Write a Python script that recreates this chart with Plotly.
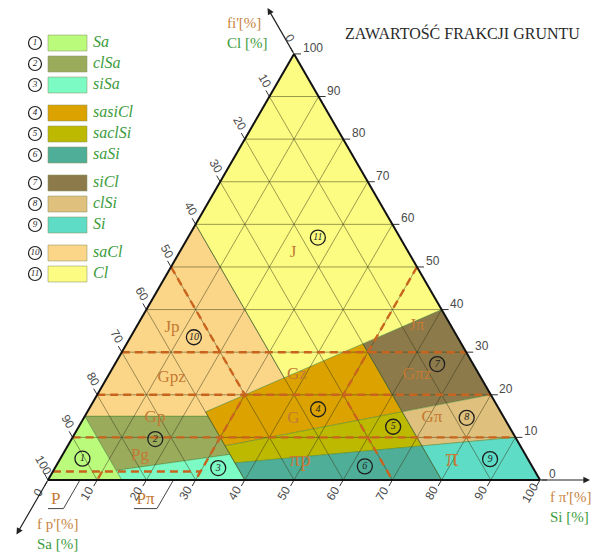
import math
import plotly.graph_objects as go

# ---------------------------------------------------------------- data
TICK_VALUES = [0, 10, 20, 30, 40, 50, 60, 70, 80, 90, 100]
GRID_VALUES = [10, 20, 30, 40, 50, 60, 70, 80, 90]

# ISO 14688-2 fine-soil classes, polygon vertices as (Cl, Sa, Si) in %
POLY_SA = [(0, 100, 0), (15, 85, 0), (0, 85, 15)]
POLY_CLSA = [(15, 85, 0), (15, 60, 25), (6, 60, 34), (2.25, 85, 12.75)]
POLY_SISA = [(2.25, 85, 12.75), (6, 60, 34), (0, 60, 40), (0, 85, 15)]
POLY_SASICL = [(32, 20, 48), (24, 40, 36), (16, 60, 24), (8, 60, 32), (16, 20, 64)]
POLY_SACLSI = [(16, 20, 64), (8, 60, 32), (4, 60, 36), (8, 20, 72)]
POLY_SASI = [(8, 20, 72), (4, 60, 36), (0, 60, 40), (0, 20, 80)]
POLY_SICL = [(40, 0, 60), (32, 20, 48), (16, 20, 64), (20, 0, 80)]
POLY_CLSI = [(20, 0, 80), (16, 20, 64), (8, 20, 72), (10, 0, 90)]
POLY_SI = [(10, 0, 90), (8, 20, 72), (0, 20, 80), (0, 0, 100)]
POLY_SACL = [(60, 40, 0), (24, 40, 36), (16, 60, 24), (15, 60, 25), (15, 85, 0)]
POLY_CL = [(100, 0, 0), (40, 0, 60), (32, 20, 48), (24, 40, 36), (60, 40, 0)]

CLASS_CODES = ["Sa", "clSa", "siSa", "sasiCl", "saclSi", "saSi",
               "siCl", "clSi", "Si", "saCl", "Cl"]
CLASS_NUMBERS = [1, 2, 3, 4, 5, 6, 7, 8, 9, 10, 11]
LEGEND_GROUP = [0, 0, 0, 1, 1, 1, 2, 2, 2, 3, 3]

# position of the circled class number inside the triangle (Cl, Sa, Si)
MARK_CL = [5, 9.6, 2.8, 16.6, 12.5, 3.2, 27.2, 14.6, 4.9, 33.5, 56.9]
MARK_SA = [90.5, 73.4, 64, 36.8, 23.6, 34, 7.3, 7.6, 7.7, 53.6, 16.7]
MARK_SI = [4.5, 17, 33.2, 46.6, 63.9, 62.8, 65.5, 77.8, 87.4, 12.9, 26.4]

# old PN-86 classes: labels and their positions (Cl, Sa, Si)
PN_NAMES = ["Pg", "Gp", "Gpz", "Jp", "J", "Jπ", "Gπz", "Gz", "G", "Gπ", "πp", "π"]
PN_CL = [5.6, 14.5, 23.9, 35.8, 53.4, 36.3, 24.6, 24.8, 14.4, 14.5, 4.5, 4.7]
PN_SA = [78.5, 71, 62.9, 56.9, 23.5, 6.9, 12.7, 37, 42.9, 14.7, 46.5, 15.5]
PN_SI = [15.9, 14.5, 13.2, 7.3, 23.1, 56.8, 62.7, 38.2, 42.7, 70.8, 49, 79.8]
PN_OUT_NAMES = ["P", "Pπ"]
PN_OUT_SI = [6.5, 25.5]

# PN-86 class boundaries (dashed), polylines of (Cl, Sa, Si)
PN_LINE_CL30 = [(30, 70, 0), (30, 0, 70)]
PN_LINE_CL20 = [(20, 80, 0), (20, 0, 80)]
PN_LINE_CL10 = [(10, 90, 0), (10, 0, 90)]
PN_LINE_CL2 = [(2, 98, 0), (2, 68, 30)]
PN_LINE_LEFT = [(50, 50, 0), (20, 50, 30), (0, 70, 30)]
PN_LINE_RIGHT = [(50, 0, 50), (20, 30, 50), (0, 30, 70)]
PN_LINE_SI10 = [(2, 88, 10), (0, 90, 10)]

# ---------------------------------------------------------------- styles
CLASS_POLYS = [POLY_SA, POLY_CLSA, POLY_SISA, POLY_SASICL, POLY_SACLSI, POLY_SASI,
               POLY_SICL, POLY_CLSI, POLY_SI, POLY_SACL, POLY_CL]
PN_LINES = [PN_LINE_CL30, PN_LINE_CL20, PN_LINE_CL10, PN_LINE_CL2,
            PN_LINE_LEFT, PN_LINE_RIGHT, PN_LINE_SI10]
CLASS_COLORS = ["#bafb7c", "#9bab5c", "#7cfcc4", "#dba200", "#bdb800", "#4fae98",
                "#8c7a4a", "#dfc07c", "#5edcc6", "#fcd688", "#fcfc82"]
PN_SIZES = [17, 17, 17, 17, 17, 17, 17, 17, 17, 17, 21, 26]
SERIF = "Liberation Serif, Times New Roman, serif"
NARROW = "Liberation Sans Narrow, Arial Narrow, Liberation Sans, Arial, sans-serif"
ORANGE = "#c47a34"
GREEN = "#3c9c3c"
AX_ORANGE = "#c8843e"

FIG_W, FIG_H = 606, 552
TRI_X0, TRI_X1, TRI_BASE = 48, 540, 480          # triangle placement (px)
SIDE = TRI_X1 - TRI_X0
PX = SIDE / 100.0                                 # px per percent
S3 = math.sqrt(3) / 2
TRI_H = SIDE * S3


def to_xy(cl, sa, si):
    """ternary -> overlay cartesian units (percent of side)."""
    t = cl + sa + si
    return ((si + cl / 2.0) * 100.0 / t, cl * S3 * 100.0 / t)


def shift(p, dx, dy):
    """offset in screen pixels (dy positive downwards)."""
    return (p[0] + dx / PX, p[1] - dy / PX)


fig = go.Figure()

# --- class fills
for poly, col, name in zip(CLASS_POLYS, CLASS_COLORS, CLASS_CODES):
    pts = poly + [poly[0]]
    fig.add_trace(go.Scatterternary(
        a=[p[0] for p in pts], b=[p[1] for p in pts], c=[p[2] for p in pts],
        mode="lines", fill="toself", fillcolor=col,
        line=dict(color="rgba(70,130,50,0.55)", width=0.8),
        name=name, hoverinfo="skip"))

# --- grid on top of fills
ga, gb, gc = [], [], []
for v in GRID_VALUES:
    for p, q in [((v, 100 - v, 0), (v, 0, 100 - v)),
                 ((100 - v, v, 0), (0, v, 100 - v)),
                 ((100 - v, 0, v), (0, 100 - v, v))]:
        ga += [p[0], q[0], None]
        gb += [p[1], q[1], None]
        gc += [p[2], q[2], None]
fig.add_trace(go.Scatterternary(a=ga, b=gb, c=gc, mode="lines",
                                line=dict(color="rgba(55,55,25,0.55)", width=0.9),
                                hoverinfo="skip"))

# --- PN-86 dashed boundaries
da, db, dc = [], [], []
for line in PN_LINES:
    for p in line:
        da.append(p[0]); db.append(p[1]); dc.append(p[2])
    da.append(None); db.append(None); dc.append(None)
fig.add_trace(go.Scatterternary(a=da, b=db, c=dc, mode="lines",
                                line=dict(color="#c8641e", width=2.4, dash="8px,5px"),
                                hoverinfo="skip"))

# --- PN-86 labels
fig.add_trace(go.Scatterternary(
    a=PN_CL, b=PN_SA, c=PN_SI, mode="text", text=PN_NAMES,
    textposition="middle center",
    textfont=dict(family=SERIF, size=PN_SIZES, color=ORANGE), hoverinfo="skip"))

# --- circled class numbers
fig.add_trace(go.Scatterternary(
    a=MARK_CL, b=MARK_SA, c=MARK_SI, mode="markers+text",
    text=[str(n) for n in CLASS_NUMBERS], textposition="middle center",
    marker=dict(symbol="circle-open", size=15, color="#1e1e1e", line=dict(width=1.3)),
    textfont=dict(family=SERIF, size=10, color="#1e1e1e", style="italic"),
    hoverinfo="skip"))

# ---------------------------------------------------------------- overlay decorations
ticks_x, ticks_y = [], []
ann = []
tick_font = dict(family=NARROW, size=12, color="#4a4a4a")
for s in TICK_VALUES:
    # left edge: Sa
    p = to_xy(100 - s, s, 0)
    q = shift(p, -3.5, -6.1)
    ticks_x += [p[0], q[0], None]; ticks_y += [p[1], q[1], None]
    c = shift(p, -4.5, -15.5)
    ann.append(dict(x=c[0], y=c[1], xref="x", yref="y", text=str(s), showarrow=False,
                    textangle=60, font=tick_font, xanchor="center", yanchor="middle"))
    # bottom edge: Si
    p = to_xy(0, 100 - s, s)
    q = shift(p, -3.5, 6.1)
    ticks_x += [p[0], q[0], None]; ticks_y += [p[1], q[1], None]
    c = shift(p, -10, 13)
    ann.append(dict(x=c[0], y=c[1], xref="x", yref="y", text=str(s), showarrow=False,
                    textangle=-60, font=tick_font, xanchor="center", yanchor="middle"))
    # right edge: Cl
    p = to_xy(s, 0, 100 - s)
    q = shift(p, 7, 0)
    ticks_x += [p[0], q[0], None]; ticks_y += [p[1], q[1], None]
    c = shift(p, 6.5, -6)
    ann.append(dict(x=c[0], y=c[1], xref="x", yref="y", text=str(s), showarrow=False,
                    font=tick_font, xanchor="left", yanchor="middle"))

fig.add_trace(go.Scatter(x=ticks_x, y=ticks_y, mode="lines",
                         line=dict(color="#333333", width=1), hoverinfo="skip",
                         xaxis="x", yaxis="y"))

# axis arrows along the edge extensions
apex = to_xy(100, 0, 0)
bl = to_xy(0, 100, 0)
br = to_xy(0, 0, 100)
for tail, dx, dy in [(apex, -26.5, -46), (bl, -31.5, 54.5), (br, 50, 0)]:
    tip = shift(tail, dx, dy)
    ann.append(dict(x=tip[0], y=tip[1], ax=tail[0], ay=tail[1], xref="x", yref="y",
                    axref="x", ayref="y", text="", showarrow=True, arrowhead=2,
                    arrowsize=1.1, arrowwidth=1.2, arrowcolor="#222222", standoff=0))

# axis titles
title_font = dict(family=SERIF, size=15)
for anchor, dx, dy, t1, t2 in [(apex, -69, -21, "fi'[%]", "Cl [%]"),
                               (bl, -13, 54, "f p'[%]", "Sa [%]"),
                               (br, 8, 27, "f π'[%]", "Si [%]")]:
    c = shift(anchor, dx, dy)
    ann.append(dict(x=c[0], y=c[1], xref="x", yref="y", showarrow=False,
                    xanchor="left", yanchor="middle", align="left", font=title_font,
                    text='<span style="color:%s">%s</span><br><span style="color:%s">%s</span>'
                         % (AX_ORANGE, t1, GREEN, t2)))

# P / Pπ callouts below the base
cx, cy, ctx, cty = [], [], [], []
for name, si in zip(PN_OUT_NAMES, PN_OUT_SI):
    p = to_xy(0, 100 - si, si)
    q = shift(p, -16.5, 28.6)
    w = 8 + 7.5 * len(name)
    r = shift(q, -w, 0)
    cx += [p[0], q[0], r[0], None]; cy += [p[1], q[1], r[1], None]
    t = shift(q, -w / 2.0, -8.5)
    ctx.append(t[0]); cty.append(t[1])
fig.add_trace(go.Scatter(x=cx, y=cy, mode="lines", line=dict(color="#444444", width=1),
                         hoverinfo="skip", xaxis="x", yaxis="y"))
fig.add_trace(go.Scatter(x=ctx, y=cty, mode="text", text=PN_OUT_NAMES,
                         textposition="middle center",
                         textfont=dict(family=SERIF, size=17, color=ORANGE),
                         hoverinfo="skip", xaxis="x", yaxis="y"))

# ---------------------------------------------------------------- legend panel
slots = [i + g / 3.0 for i, g in enumerate(LEGEND_GROUP)]
fig.add_trace(go.Bar(y=slots, x=[39] * len(slots), base=48, orientation="h", width=0.76,
                     marker=dict(color=CLASS_COLORS,
                                 line=dict(color="rgba(140,150,100,0.55)", width=1)),
                     hoverinfo="skip", xaxis="x2", yaxis="y2"))
fig.add_trace(go.Scatter(x=[35] * len(slots), y=slots, mode="markers+text",
                         text=[str(n) for n in CLASS_NUMBERS], textposition="middle center",
                         marker=dict(symbol="circle-open", size=13, color="#1e1e1e",
                                     line=dict(width=1.2)),
                         textfont=dict(family=SERIF, size=9, color="#1e1e1e", style="italic"),
                         hoverinfo="skip", xaxis="x2", yaxis="y2"))
fig.add_trace(go.Scatter(x=[93] * len(slots), y=slots, mode="text", text=CLASS_CODES,
                         textposition="middle right",
                         textfont=dict(family=SERIF, size=16, color=GREEN, style="italic"),
                         hoverinfo="skip", xaxis="x2", yaxis="y2"))

# ---------------------------------------------------------------- layout
axis_t = dict(showgrid=False, showticklabels=False, ticks="", linecolor="#111111",
              linewidth=2, layer="above traces", title=dict(text=""))
LEG_TOP, LEG_ROW, LEG_H = 43, 21, 300
fig.update_layout(
    width=FIG_W, height=FIG_H, margin=dict(l=0, r=0, t=0, b=0),
    paper_bgcolor="white", plot_bgcolor="rgba(0,0,0,0)", showlegend=False,
    title=dict(text="ZAWARTOŚĆ FRAKCJI GRUNTU", x=345 / FIG_W, xanchor="left",
               y=1 - 33 / FIG_H, yanchor="middle",
               font=dict(family=SERIF, size=16, color="#2a2a2a")),
    ternary=dict(
        sum=100, bgcolor="rgba(0,0,0,0)",
        domain=dict(x=[TRI_X0 / FIG_W, TRI_X1 / FIG_W],
                    y=[(FIG_H - TRI_BASE) / FIG_H, (FIG_H - TRI_BASE + TRI_H) / FIG_H]),
        aaxis=axis_t, baxis=axis_t, caxis=axis_t),
    xaxis=dict(domain=[0, 1], range=[-TRI_X0 / PX, (FIG_W - TRI_X0) / PX],
               visible=False, fixedrange=True),
    yaxis=dict(domain=[0, 1], range=[-(FIG_H - TRI_BASE) / PX, TRI_BASE / PX],
               visible=False, fixedrange=True),
    xaxis2=dict(domain=[0, 0.25], range=[0, 0.25 * FIG_W], visible=False, fixedrange=True,
                anchor="y2"),
    yaxis2=dict(domain=[1 - LEG_H / FIG_H, 1],
                range=[(LEG_H - LEG_TOP) / LEG_ROW, -LEG_TOP / LEG_ROW],
                visible=False, fixedrange=True, anchor="x2"),
    annotations=ann,
)

fig.write_html("out.html")
